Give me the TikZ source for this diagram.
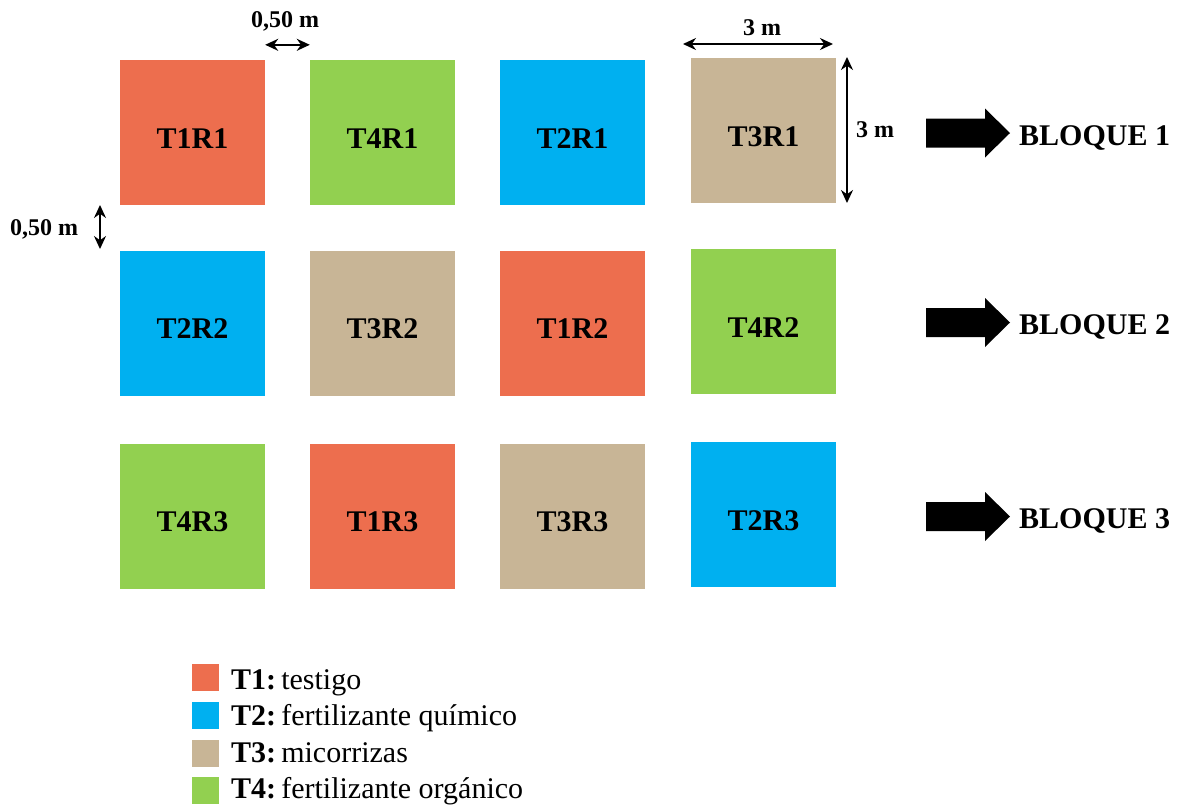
\documentclass[tikz,border=0pt]{standalone}
\usepackage{fontspec}
\setmainfont{Liberation Serif}
\usetikzlibrary{arrows.meta}
\definecolor{tone}{RGB}{237,110,78}
\definecolor{ttwo}{RGB}{0,176,240}
\definecolor{tthree}{RGB}{200,181,150}
\definecolor{tfour}{RGB}{146,208,80}
\tikzset{
  plot/.style={minimum width=145pt, minimum height=145pt, inner sep=0pt, draw=none,
    text height=31pt, text depth=0pt, font=\bfseries\fontsize{30}{30}\selectfont},
  dim/.style={{Stealth[length=13pt,width=12pt]}-{Stealth[length=13pt,width=12pt]}, line width=1.7pt},
  dimlbl/.style={inner sep=0pt, font=\bfseries\fontsize{24}{24}\selectfont},
  bigarrow/.style={fill=black},
  bloque/.style={anchor=base west, inner sep=0pt, font=\bfseries\fontsize{30}{30}\selectfont},
  keybox/.style={minimum size=27pt, inner sep=0pt, draw=none},
  keytext/.style={anchor=base west, inner sep=0pt, font=\fontsize{30}{30}\selectfont},
}
\newcommand{\keyentry}[2]{\textbf{#1}\hspace{0.17em}#2}
\begin{document}
\begin{tikzpicture}[x=1pt, y=-1pt]
\useasboundingbox (0,0) rectangle (1187,807);

% plots, row by row
\node[plot, fill=tone]   (t1r1) at (192.5,132.5) {T1R1};
\node[plot, fill=tfour]  (t4r1) at (382.5,132.5) {T4R1};
\node[plot, fill=ttwo]   (t2r1) at (572.5,132.5) {T2R1};
\node[plot, fill=tthree] (t3r1) at (763.5,130.5) {T3R1};

\node[plot, fill=ttwo]   (t2r2) at (192.5,323) {T2R2};
\node[plot, fill=tthree] (t3r2) at (382.5,323) {T3R2};
\node[plot, fill=tone]   (t1r2) at (572.5,323) {T1R2};
\node[plot, fill=tfour]  (t4r2) at (763.5,321.5) {T4R2};

\node[plot, fill=tfour]  (t4r3) at (192.5,516) {T4R3};
\node[plot, fill=tone]   (t1r3) at (382.5,516) {T1R3};
\node[plot, fill=tthree] (t3r3) at (572.5,516) {T3R3};
\node[plot, fill=ttwo]   (t2r3) at (763.5,514.5) {T2R3};

% spacing between plots
\coordinate (gapL) at ([yshift=15pt]t1r1.north east);
\coordinate (gapR) at ([yshift=15pt]t4r1.north west);
\draw[dim] (gapL) -- (gapR);
\node[dimlbl, anchor=base] (gaptxt) at (285,27) {0,50 m};

\coordinate (rowT) at (100,205);
\coordinate (rowB) at (100,249);
\draw[dim] (rowT) -- (rowB);
\node[dimlbl, anchor=base] (rowtxt) at (44,235) {0,50 m};

% plot size
\coordinate (wL) at (683,44);
\coordinate (wR) at (833,44);
\draw[dim] (wL) -- (wR);
\node[dimlbl, anchor=base] (wtxt) at (762,35) {3 m};

\coordinate (hT) at (847,57);
\coordinate (hB) at (847,203);
\draw[dim] (hT) -- (hB);
\node[dimlbl, anchor=base west] (htxt) at (856,137) {3 m};

% block arrows and labels
\foreach \yc/\n in {133/1, 322.5/2, 516.5/3}{
  \fill[bigarrow] (926,\yc-14.5) -- (985,\yc-14.5) -- (985,\yc-24.5) -- (1010,\yc)
    -- (985,\yc+24.5) -- (985,\yc+14.5) -- (926,\yc+14.5) -- cycle;
  \node[bloque] (bloque\n) at (1019,\yc+12) {BLOQUE \n};
}

% legend
\node[keybox, fill=tone]   (k1) at (205,677) {};
\node[keybox, fill=ttwo]   (k2) at (205,715.5) {};
\node[keybox, fill=tthree] (k3) at (205,753.5) {};
\node[keybox, fill=tfour]  (k4) at (205,790.5) {};
\node[keytext] (l1) at (231,689) {\keyentry{T1:}{testigo}};
\node[keytext] (l2) at (231,725) {\keyentry{T2:}{fertilizante químico}};
\node[keytext] (l3) at (231,762) {\keyentry{T3:}{micorrizas}};
\node[keytext] (l4) at (231,798) {\keyentry{T4:}{fertilizante orgánico}};
\end{tikzpicture}
\end{document}
